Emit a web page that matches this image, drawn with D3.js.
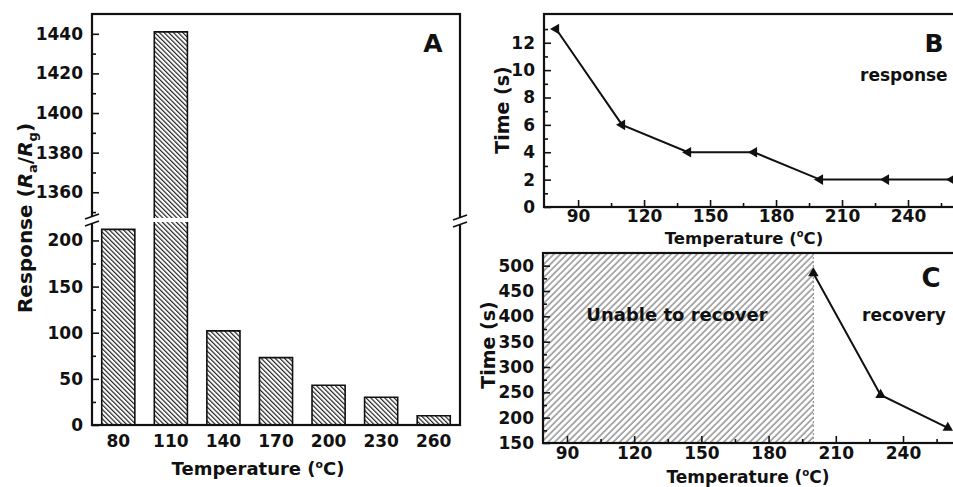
<!DOCTYPE html>
<html>
<head>
<meta charset="utf-8">
<script src="https://cdn.jsdelivr.net/npm/d3@7"></script>
<style>
body { margin: 0; background: #fff; }
text { font-family: "DejaVu Sans", sans-serif; font-weight: bold; fill: #111; }
</style>
</head>
<body>
<div id="chart"></div>
<script>
// panel A: response vs temperature (broken y axis)
const tempsA = [80, 110, 140, 170, 200, 230, 260];
const responseA = [212, 1441, 102, 73, 43, 30, 10];
const ticksALow = [0, 50, 100, 150, 200];
const minorALow = [25, 75, 125, 175];
const ticksAHigh = [1360, 1380, 1400, 1420, 1440];
const minorAHigh = [1350, 1370, 1390, 1410, 1430];

// panel B: response time
const tempsB = [80, 110, 140, 170, 200, 230, 260];
const timeB = [13, 6, 4, 4, 2, 2, 2];
const ticksBY = [0, 2, 4, 6, 8, 10, 12];
const minorBY = [1, 3, 5, 7, 9, 11, 13];

// panel C: recovery time
const tempsC = [200, 230, 260];
const timeC = [485, 245, 180];
const ticksCY = [150, 200, 250, 300, 350, 400, 450, 500];
const minorCY = [175, 225, 275, 325, 375, 425, 475];

const ticksX = [90, 120, 150, 180, 210, 240];
const minorX = [105, 135, 165, 195, 225, 255];

let w = 953;
let h = 487;

let svg = d3.select("#chart")
    .append("svg")
    .attr("width", w)
    .attr("height", h);

let defs = svg.append("defs");

// dense black back-slash hatch for the bars
defs.append("pattern")
    .attr("id", "hatchA")
    .attr("patternUnits", "userSpaceOnUse")
    .attr("width", 3.3)
    .attr("height", 10)
    .attr("patternTransform", "rotate(-45)")
    .append("line")
    .attr("x1", 0.6).attr("y1", 0)
    .attr("x2", 0.6).attr("y2", 10)
    .attr("stroke", "#111")
    .attr("stroke-width", 1.1);

// grey slash hatch for the "unable to recover" zone
defs.append("pattern")
    .attr("id", "hatchC")
    .attr("patternUnits", "userSpaceOnUse")
    .attr("width", 4.6)
    .attr("height", 10)
    .attr("patternTransform", "rotate(45)")
    .append("line")
    .attr("x1", 1).attr("y1", 0)
    .attr("x2", 1).attr("y2", 10)
    .attr("stroke", "#8a8a8a")
    .attr("stroke-width", 1.4);

function styleAxis(g, fs) {
    g.attr("font-family", null).attr("font-size", fs);
    g.selectAll(".domain").remove();
    g.selectAll(".tick line").attr("stroke", "#111").attr("stroke-width", 1.6);
    g.selectAll(".tick text").attr("fill", "#111");
}

function leftAxis(x, scale, major, minor, pad, fs) {
    svg.append("g")
        .attr("transform", "translate(" + x + ",0)")
        .call(d3.axisLeft(scale).tickValues(minor).tickSize(-4).tickFormat(""))
        .call(styleAxis, fs);
    svg.append("g")
        .attr("transform", "translate(" + x + ",0)")
        .call(d3.axisLeft(scale).tickValues(major).tickFormat(d3.format("d"))
            .tickSizeInner(-7).tickSizeOuter(0).tickPadding(pad))
        .call(styleAxis, fs);
}

function bottomAxis(y, scale, major, minor, pad, fs) {
    svg.append("g")
        .attr("transform", "translate(0," + y + ")")
        .call(d3.axisBottom(scale).tickValues(minor).tickSize(-4).tickFormat(""))
        .call(styleAxis, fs);
    svg.append("g")
        .attr("transform", "translate(0," + y + ")")
        .call(d3.axisBottom(scale).tickValues(major).tickFormat(d3.format("d"))
            .tickSizeInner(-7).tickSizeOuter(0).tickPadding(pad))
        .call(styleAxis, fs);
}

function tempTitle(x, y, fs) {
    let t = svg.append("text")
        .attr("x", x).attr("y", y)
        .attr("text-anchor", "middle")
        .attr("font-size", fs);
    t.append("tspan").text("Temperature (");
    t.append("tspan").attr("dy", -fs * 0.4).attr("font-size", fs * 0.6).text("o");
    t.append("tspan").attr("dy", fs * 0.4).text("C)");
}

function breakMark(x, y) {
    svg.append("rect")
        .attr("x", x - 4).attr("y", y - 3)
        .attr("width", 8).attr("height", 6)
        .attr("fill", "#fff");
    [-3.5, 3.5].forEach(function (d) {
        svg.append("line")
            .attr("x1", x - 7).attr("y1", y + d + 2.5)
            .attr("x2", x + 7).attr("y2", y + d - 2.5)
            .attr("stroke", "#111")
            .attr("stroke-width", 1.8);
    });
}

// ---------- panel A ----------
let xA = d3.scaleBand()
    .domain(tempsA)
    .range([92, 460])
    .paddingInner(0.37)
    .paddingOuter(0.185);
let yLow = d3.scaleLinear().domain([0, 220]).range([425, 222]);
let yHigh = d3.scaleLinear().domain([1347, 1450]).range([218, 14]);

tempsA.forEach(function (t, i) {
    let v = responseA[i];
    let x0 = xA(t);
    let x1 = x0 + xA.bandwidth();
    let top = yLow(Math.min(v, 220));
    svg.append("rect")
        .attr("x", x0).attr("y", top)
        .attr("width", xA.bandwidth()).attr("height", yLow(0) - top)
        .attr("fill", "url(#hatchA)");
    let p;
    if (v > 220) {
        svg.append("rect")
            .attr("x", x0).attr("y", yHigh(v))
            .attr("width", xA.bandwidth()).attr("height", yHigh.range()[0] - yHigh(v))
            .attr("fill", "url(#hatchA)");
        p = "M" + x0 + "," + yLow(0) + "V" + yLow(220) +
            "M" + x0 + "," + yHigh.range()[0] + "V" + yHigh(v) + "H" + x1 + "V" + yHigh.range()[0] +
            "M" + x1 + "," + yLow(220) + "V" + yLow(0);
    } else {
        p = "M" + x0 + "," + yLow(0) + "V" + top + "H" + x1 + "V" + yLow(0);
    }
    svg.append("path")
        .attr("d", p)
        .attr("fill", "none")
        .attr("stroke", "#111")
        .attr("stroke-width", 1.6);
});

leftAxis(92, yLow, ticksALow, minorALow, 9, 17);
leftAxis(92, yHigh, ticksAHigh, minorAHigh, 9, 17);

svg.append("g")
    .attr("transform", "translate(0,425)")
    .call(d3.axisBottom(xA).tickSize(0).tickPadding(10))
    .call(styleAxis, 17);

svg.append("rect")
    .attr("x", 92).attr("y", 14)
    .attr("width", 368).attr("height", 411)
    .attr("fill", "none")
    .attr("stroke", "#111")
    .attr("stroke-width", 2.2);

breakMark(92, 220);
breakMark(460, 221);

svg.append("text")
    .attr("x", 433).attr("y", 52)
    .attr("text-anchor", "middle")
    .attr("font-size", 25)
    .text("A");

tempTitle(258, 475, 18);

let yt = svg.append("text")
    .attr("transform", "translate(32,218) rotate(-90)")
    .attr("text-anchor", "middle")
    .attr("font-size", 20);
yt.append("tspan").text("Response (");
yt.append("tspan").attr("font-style", "italic").text("R");
yt.append("tspan").attr("dy", 5).attr("font-size", 13).text("a");
yt.append("tspan").attr("dy", -5).text("/");
yt.append("tspan").attr("font-style", "italic").text("R");
yt.append("tspan").attr("dy", 5).attr("font-size", 13).text("g");
yt.append("tspan").attr("dy", -5).text(")");

// ---------- panel B ----------
let xB = d3.scaleLinear().domain([74.5, 265]).range([544, 963]);
let yB = d3.scaleLinear().domain([0, 14.1]).range([207, 14]);

svg.append("path")
    .datum(tempsB.map(function (t, i) { return [t, timeB[i]]; }))
    .attr("d", d3.line()
        .x(function (d) { return xB(d[0]); })
        .y(function (d) { return yB(d[1]); }))
    .attr("fill", "none")
    .attr("stroke", "#111")
    .attr("stroke-width", 2);

svg.selectAll(".markB")
    .data(tempsB)
    .enter()
    .append("path")
    .attr("class", "markB")
    .attr("d", d3.symbol(d3.symbolTriangle, 48))
    .attr("transform", function (d, i) {
        return "translate(" + xB(d) + "," + yB(timeB[i]) + ") rotate(-90)";
    })
    .attr("fill", "#111");

leftAxis(544, yB, ticksBY, minorBY, 9, 17);
bottomAxis(207, xB, ticksX, minorX, 3, 17);

svg.append("rect")
    .attr("x", 544).attr("y", 14)
    .attr("width", 440).attr("height", 193)
    .attr("fill", "none")
    .attr("stroke", "#111")
    .attr("stroke-width", 2.2);

svg.append("text")
    .attr("x", 934).attr("y", 52)
    .attr("text-anchor", "middle")
    .attr("font-size", 25)
    .text("B");
svg.append("text")
    .attr("x", 860).attr("y", 81)
    .attr("font-size", 17)
    .text("response");

tempTitle(744, 244, 16.5);

svg.append("text")
    .attr("transform", "translate(509,110) rotate(-90)")
    .attr("text-anchor", "middle")
    .attr("font-size", 19)
    .text("Time (s)");

// ---------- panel C ----------
let xC = d3.scaleLinear().domain([79.3, 265]).range([543, 959]);
let yC = d3.scaleLinear().domain([150, 525]).range([443, 253]);

svg.append("rect")
    .attr("x", xC.range()[0]).attr("y", yC(525))
    .attr("width", xC(200) - xC.range()[0])
    .attr("height", yC(150) - yC(525))
    .attr("fill", "url(#hatchC)");
svg.append("line")
    .attr("x1", xC(200)).attr("x2", xC(200))
    .attr("y1", yC(525)).attr("y2", yC(150))
    .attr("stroke", "#999")
    .attr("stroke-width", 1.2)
    .attr("stroke-dasharray", "2,2");

svg.append("path")
    .datum(tempsC.map(function (t, i) { return [t, timeC[i]]; }))
    .attr("d", d3.line()
        .x(function (d) { return xC(d[0]); })
        .y(function (d) { return yC(d[1]); }))
    .attr("fill", "none")
    .attr("stroke", "#111")
    .attr("stroke-width", 2);

svg.selectAll(".markC")
    .data(tempsC)
    .enter()
    .append("path")
    .attr("class", "markC")
    .attr("d", d3.symbol(d3.symbolTriangle, 48))
    .attr("transform", function (d, i) {
        return "translate(" + xC(d) + "," + yC(timeC[i]) + ")";
    })
    .attr("fill", "#111");

leftAxis(543, yC, ticksCY, minorCY, 9, 17);
bottomAxis(443, xC, ticksX, minorX, 4, 17);

svg.append("rect")
    .attr("x", 543).attr("y", 253)
    .attr("width", 440).attr("height", 190)
    .attr("fill", "none")
    .attr("stroke", "#111")
    .attr("stroke-width", 2.2);

svg.append("text")
    .attr("x", 931).attr("y", 287)
    .attr("text-anchor", "middle")
    .attr("font-size", 26)
    .text("C");
svg.append("text")
    .attr("x", 677).attr("y", 321)
    .attr("text-anchor", "middle")
    .attr("font-size", 18)
    .text("Unable to recover");
svg.append("text")
    .attr("x", 862).attr("y", 321)
    .attr("font-size", 17)
    .text("recovery");

tempTitle(748, 483, 17);

svg.append("text")
    .attr("transform", "translate(495,345) rotate(-90)")
    .attr("text-anchor", "middle")
    .attr("font-size", 19)
    .text("Time (s)");
</script>
</body>
</html>
